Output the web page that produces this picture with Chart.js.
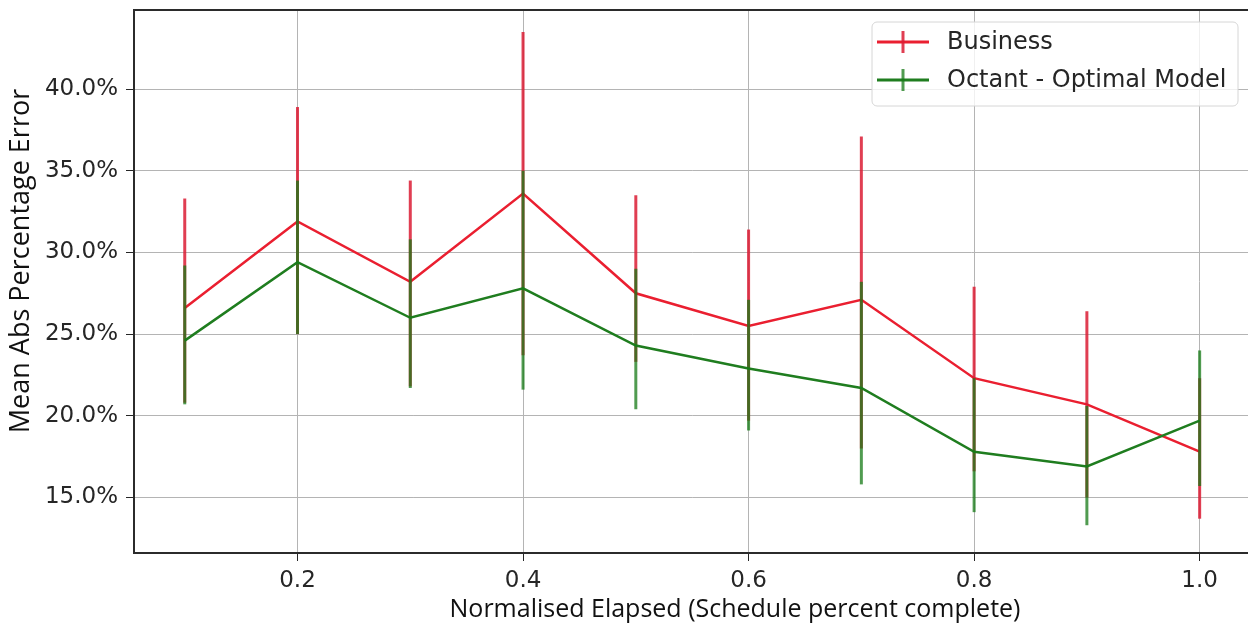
<!DOCTYPE html>
<html>
<head>
<meta charset="utf-8">
<title>Mean Abs Percentage Error</title>
<script src="https://cdn.jsdelivr.net/npm/chart.js@4.4.1/dist/chart.umd.min.js"></script>
<style>
  html, body { margin: 0; padding: 0; background: #fff; overflow: hidden; }
  #wrap { width: 1252px; height: 631px; position: relative; }
</style>
</head>
<body>
<div id="wrap"><canvas id="mape"></canvas></div>
<script>
// schedule percent complete (x) and error stats in percent
const elapsed = [0.1, 0.2, 0.3, 0.4, 0.5, 0.6, 0.7, 0.8, 0.9, 1.0];

const businessMean = [26.6, 31.9, 28.2, 33.6, 27.5, 25.5, 27.1, 22.3, 20.7, 17.8];
const businessLow  = [20.8, 25.0, 21.8, 23.7, 23.3, 19.7, 18.0, 16.6, 15.0, 13.7];
const businessHigh = [33.3, 38.9, 34.4, 43.5, 33.5, 31.4, 37.1, 27.9, 26.4, 22.3];

const octantMean = [24.6, 29.4, 26.0, 27.8, 24.3, 22.9, 21.7, 17.8, 16.9, 19.7];
const octantLow  = [20.7, 25.0, 21.7, 21.6, 20.4, 19.1, 15.8, 14.1, 13.3, 15.7];
const octantHigh = [29.2, 34.4, 30.8, 35.0, 29.0, 27.1, 28.2, 22.3, 20.6, 24.0];

const xTicks = [0.2, 0.4, 0.6, 0.8, 1.0];
const yTicks = [15, 20, 25, 30, 35, 40];

const xTitle = 'Normalised Elapsed (Schedule percent complete)';
const yTitle = 'Mean Abs Percentage Error';

const RED = '#ea1f30';
const GREEN = '#1f7d1f';

function points(ys) {
  return elapsed.map((x, i) => ({ x: x, y: ys[i] }));
}

// vertical error bars, drawn right after each dataset's line
const errorBars = {
  id: 'errorBars',
  afterDatasetDraw(chart, args) {
    const ds = chart.data.datasets[args.index];
    if (!ds.errLow) return;
    const { ctx, scales: { x, y } } = chart;
    ctx.save();
    ctx.strokeStyle = ds.errColor;
    ctx.lineWidth = 3;
    ctx.lineCap = 'butt';
    elapsed.forEach((v, i) => {
      const px = x.getPixelForValue(v);
      ctx.beginPath();
      ctx.moveTo(px, y.getPixelForValue(ds.errLow[i]));
      ctx.lineTo(px, y.getPixelForValue(ds.errHigh[i]));
      ctx.stroke();
    });
    ctx.restore();
  }
};

// axes frame, axis titles and the boxed legend in the upper right
const frameAndLegend = {
  id: 'frameAndLegend',
  afterDraw(chart) {
    const { ctx, chartArea: a } = chart;
    ctx.save();
    ctx.strokeStyle = '#2b2b2b';
    ctx.lineWidth = 2;
    ctx.strokeRect(a.left, a.top, a.right - a.left, a.bottom - a.top);

    // axis titles
    ctx.fillStyle = '#111';
    ctx.textAlign = 'center';
    ctx.textBaseline = 'middle';
    ctx.font = '25px "Open Sans"';
    ctx.fillText(xTitle, 735, 610);
    ctx.save();
    ctx.translate(21, 261);
    ctx.rotate(-Math.PI / 2);
    ctx.font = '27px "Open Sans"';
    ctx.fillText(yTitle, 0, 0);
    ctx.restore();

    const bx = 872, by = 22, bw = 366, bh = 84, r = 5;
    ctx.beginPath();
    ctx.roundRect(bx, by, bw, bh, r);
    ctx.fillStyle = 'rgba(255,255,255,0.8)';
    ctx.fill();
    ctx.strokeStyle = '#d6d6d6';
    ctx.lineWidth = 1;
    ctx.stroke();

    ctx.font = '24px "DejaVu Sans"';
    ctx.textAlign = 'left';
    const rows = [42, 80];
    // legend order follows dataset order in the data array
    chart.data.datasets.forEach((ds, i) => {
      const cy = rows[i];
      ctx.strokeStyle = ds.borderColor;
      ctx.lineWidth = 3;
      ctx.beginPath();
      ctx.moveTo(877, cy);
      ctx.lineTo(929, cy);
      ctx.stroke();
      ctx.strokeStyle = ds.errColor;
      ctx.beginPath();
      ctx.moveTo(903, cy - 11);
      ctx.lineTo(903, cy + 11);
      ctx.stroke();
      ctx.fillStyle = '#262626';
      ctx.fillText(ds.label, 947, cy + 1);
    });
    ctx.restore();
  }
};

const tickFont = { family: 'DejaVu Sans', size: 23 };

new Chart(document.getElementById('mape'), {
  type: 'line',
  data: {
    datasets: [
      {
        label: 'Business',
        data: points(businessMean),
        borderColor: RED,
        borderWidth: 2.5,
        pointRadius: 0,
        tension: 0,
        order: 2,
        errLow: businessLow,
        errHigh: businessHigh,
        errColor: 'rgba(218, 28, 52, 0.85)'
      },
      {
        label: 'Octant - Optimal Model',
        data: points(octantMean),
        borderColor: GREEN,
        borderWidth: 2.5,
        pointRadius: 0,
        tension: 0,
        order: 1,
        errLow: octantLow,
        errHigh: octantHigh,
        errColor: 'rgba(22, 122, 22, 0.75)'
      }
    ]
  },
  options: {
    responsive: true,
    maintainAspectRatio: false,
    animation: false,
    layout: { padding: { top: 0, right: 1.6, left: 0, bottom: 0 } },
    plugins: {
      legend: { display: false },
      tooltip: { enabled: false }
    },
    scales: {
      x: {
        type: 'linear',
        min: 0.055,
        max: 1.045,
        afterBuildTicks: s => { s.ticks = xTicks.map(v => ({ value: v })); },
        afterFit: s => { s.height = 78; },
        ticks: {
          font: tickFont,
          color: '#262626',
          padding: 6,
          maxRotation: 0,
          callback: v => v.toFixed(1)
        },
        grid: { color: '#b4b4b4', lineWidth: 1, tickColor: '#262626', tickLength: 8 },
        border: { display: false }
      },
      y: {
        min: 11.6,
        max: 44.84,
        afterBuildTicks: s => { s.ticks = yTicks.map(v => ({ value: v })); },
        afterFit: s => { s.width = 134; s.paddingTop = 10; },
        ticks: {
          font: tickFont,
          color: '#262626',
          padding: 8,
          callback: v => v.toFixed(1) + '%'
        },
        grid: { color: '#b4b4b4', lineWidth: 1, tickColor: '#262626', tickLength: 8 },
        border: { display: false }
      }
    }
  },
  plugins: [errorBars, frameAndLegend]
});
</script>
</body>
</html>
